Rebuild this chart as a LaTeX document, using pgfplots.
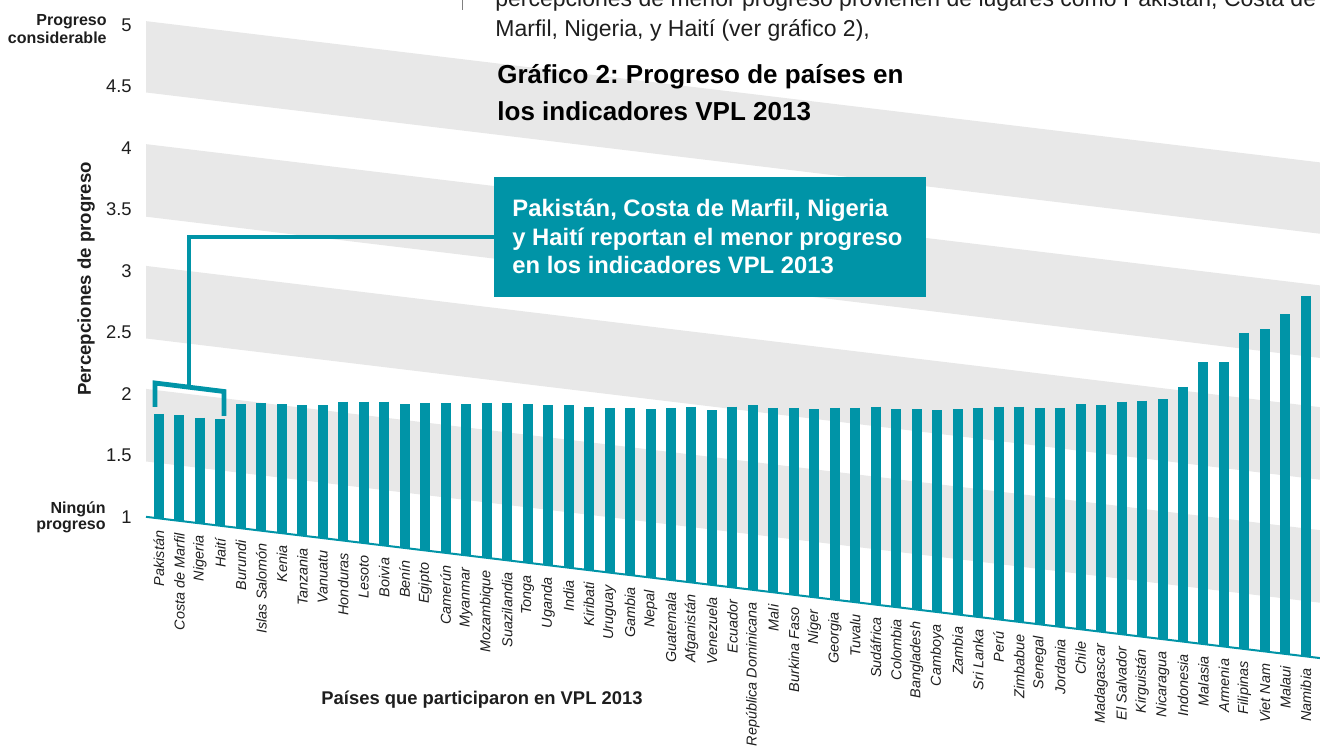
\documentclass[border=0pt]{standalone}
\usepackage{pgfplots}
\pgfplotsset{compat=1.18}
\usepackage{pgfplotstable}
\usepackage{fontspec}
\setmainfont{Liberation Sans}

\definecolor{vpl}{RGB}{0,148,167}
\definecolor{banda}{RGB}{232,232,232}
\definecolor{tinta}{RGB}{30,30,30}

% i = posicion de la barra, v = percepcion de progreso (1 a 5)
\pgfplotstableread[col sep=comma]{
i,v,pais
0,1.85,Pakistán
1,1.86,Costa de Marfil
2,1.86,Nigeria
3,1.87,Haití
4,2.01,Burundi
5,2.04,Islas Salomón
6,2.05,Kenia
7,2.06,Tanzania
8,2.08,Vanuatu
9,2.13,Honduras
10,2.15,Lesoto
11,2.17,Boivia
12,2.17,Benín
13,2.20,Egipto
14,2.22,Camerún
15,2.23,Myanmar
16,2.26,Mozambique
17,2.28,Suazilandia
18,2.29,Tonga
19,2.30,Uganda
20,2.32,India
21,2.33,Kiribati
22,2.34,Uruguay
23,2.36,Gambia
24,2.37,Nepal
25,2.40,Guatemala
26,2.43,Afganistán
27,2.42,Venezuela
28,2.47,Ecuador
29,2.50,República Dominicana
30,2.50,Mali
31,2.52,Burkina Faso
32,2.53,Níger
33,2.56,Georgia
34,2.58,Tuvalu
35,2.61,Sudáfrica
36,2.61,Colombia
37,2.63,Bangladesh
38,2.64,Camboya
39,2.67,Zambia
40,2.70,Sri Lanka
41,2.73,Perú
42,2.75,Zimbabue
43,2.76,Senegal
44,2.78,Jordania
45,2.83,Chile
46,2.84,Madagascar
47,2.89,El Salvador
48,2.92,Kirguistán
49,2.95,Nicaragua
50,3.07,Indonesia
51,3.29,Malasia
52,3.31,Armenia
53,3.57,Filipinas
54,3.62,Viet Nam
55,3.76,Malaui
56,3.93,Namibia
}\datos

\begin{document}
\frenchspacing
\begin{tikzpicture}
\begin{axis}[
    x={(10.24pt,-1.232pt)}, y={(0pt,61.5pt)},
    xmin=-0.635, xmax=60, ymin=0, ymax=4.06,
    enlargelimits=false,
    clip=false,
    axis line style={draw=none},
    tick style={draw=none},
    xtick=data,
    xticklabels from table={\datos}{pais},
    xticklabel style={rotate=90, anchor=east, inner xsep=6pt, inner ysep=0pt,
        font=\fontsize{7.2}{8}\selectfont\itshape, text=tinta},
    ytick={0,0.5,...,4},
    yticklabels={1,1.5,2,2.5,3,3.5,4,4.5,5},
    yticklabel style={anchor=east, inner sep=0pt, xshift=-7pt,
        font=\fontsize{9.2}{11}\selectfont, text=tinta},
]
    % bandas grises del fondo
    \fill[banda] (axis cs:-0.635,0.45) -- (axis cs:60,0.45) -- (axis cs:60,1.04) -- (axis cs:-0.635,1.04) -- cycle;
    \fill[banda] (axis cs:-0.635,1.45) -- (axis cs:60,1.45) -- (axis cs:60,2.04) -- (axis cs:-0.635,2.04) -- cycle;
    \fill[banda] (axis cs:-0.635,2.44) -- (axis cs:60,2.44) -- (axis cs:60,3.03) -- (axis cs:-0.635,3.03) -- cycle;
    \fill[banda] (axis cs:-0.635,3.45) -- (axis cs:60,3.45) -- (axis cs:60,4.03) -- (axis cs:-0.635,4.03) -- cycle;

    % barras: del valor hasta la base inclinada (nivel 1)
    \addplot[draw=none, mark=none,
        error bars/.cd, y dir=minus, y explicit, error mark=none,
        error bar style={line width=5pt, draw=vpl}]
        table[x=i, y expr=\thisrow{v}-1, y error expr=\thisrow{v}-1] {\datos};

    \draw[vpl, line width=1pt] (axis cs:-0.635,0) -- (axis cs:60,0);

    \coordinate (tl) at (axis cs:-7.764,4.059);
    \coordinate (br) at (axis cs:56.69,-0.715);
\end{axis}

% anotaciones en pixeles de la imagen
\begin{scope}[shift={(tl)}, x=0.5pt, y=-0.5pt]
    \draw[gray, line width=0.4pt] (462,0) -- (462,10);
    \node[anchor=base west, inner sep=0pt, text=tinta, font=\fontsize{11.5}{13}\selectfont]
        at (495,7) {percepciones de menor progreso provienen de lugares como Pakistán, Costa de};
    \node[anchor=base west, inner sep=0pt, text=tinta, font=\fontsize{11.5}{13}\selectfont]
        at (495,37) {Marfil, Nigeria, y Haití (ver gráfico 2),};

    \node[anchor=base west, inner sep=0pt, font=\fontsize{13}{15}\selectfont\bfseries]
        at (497,84) {Gráfico 2: Progreso de países en};
    \node[anchor=base west, inner sep=0pt, font=\fontsize{13}{15}\selectfont\bfseries]
        at (497,121) {los indicadores VPL 2013};

    \fill[vpl] (494,177) rectangle (926,297);
    \node[anchor=base west, inner sep=0pt, text=white, font=\fontsize{11.9}{13}\selectfont\bfseries]
        at (512,217) {Pakistán, Costa de Marfil, Nigeria};
    \node[anchor=base west, inner sep=0pt, text=white, font=\fontsize{11.9}{13}\selectfont\bfseries]
        at (512,246) {y Haití reportan el menor progreso};
    \node[anchor=base west, inner sep=0pt, text=white, font=\fontsize{11.9}{13}\selectfont\bfseries]
        at (512,274) {en los indicadores VPL 2013};

    \draw[vpl, line width=2.4pt] (494,237) -- (189,237) -- (189,387);
    \draw[vpl, line width=2.4pt] (155,407) -- (155,383) -- (224,391.5) -- (224,416);

    \node[rotate=90, inner sep=0pt, font=\fontsize{9.3}{11}\selectfont\bfseries, text=tinta]
        at (86,279) {Percepciones de progreso};
    \node[inner sep=0pt, font=\fontsize{9.2}{11}\selectfont\bfseries, text=tinta]
        at (482,700) {Países que participaron en VPL 2013};

    \node[anchor=base east, inner sep=0pt, font=\fontsize{8}{9}\selectfont\bfseries, text=tinta]
        at (107,26) {Progreso};
    \node[anchor=base east, inner sep=0pt, font=\fontsize{8}{9}\selectfont\bfseries, text=tinta]
        at (107,44) {considerable};
    \node[anchor=base east, inner sep=0pt, font=\fontsize{8}{9}\selectfont\bfseries, text=tinta]
        at (106,513) {Ningún};
    \node[anchor=base east, inner sep=0pt, font=\fontsize{8}{9}\selectfont\bfseries, text=tinta]
        at (106,530) {progreso};
\end{scope}

\pgfresetboundingbox
\useasboundingbox (tl) rectangle (br);
\end{tikzpicture}
\end{document}
